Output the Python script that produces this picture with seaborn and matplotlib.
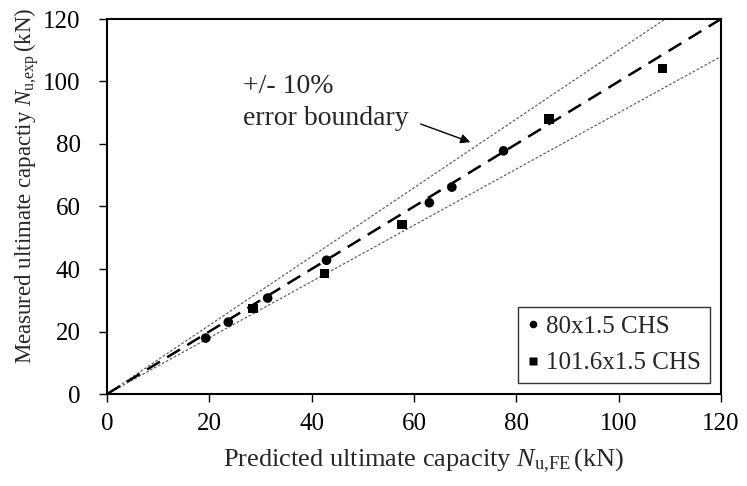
import matplotlib
matplotlib.use("Agg")
import matplotlib.pyplot as plt
import seaborn as sns
import pandas as pd

# Predicted (FE) vs measured ultimate capacity, kN
chs80_pred = [19.3, 23.7, 31.4, 42.9, 63.0, 67.4, 77.5]
chs80_meas = [17.9, 23.0, 30.7, 42.8, 61.2, 66.2, 77.8]
chs101_pred = [28.5, 42.5, 57.6, 86.4, 108.6]
chs101_meas = [27.3, 38.5, 54.2, 88.0, 104.1]
series_names = ["80x1.5 CHS", "101.6x1.5 CHS"]

# Reference line and +/-10 % error bounds
ref_x = [0, 120]
ref_y = [0, 120]
upper_x = [0, 120 / 1.1]
upper_y = [0, 120]
lower_x = [0, 120]
lower_y = [0, 108]

ticks = [0, 20, 40, 60, 80, 100, 120]

df = pd.DataFrame({
    "pred": chs80_pred + chs101_pred,
    "meas": chs80_meas + chs101_meas,
    "section": [series_names[0]] * len(chs80_pred) + [series_names[1]] * len(chs101_pred),
})

sns.set_theme(style="white")
plt.rcParams["font.family"] = ["Liberation Serif", "DejaVu Serif"]
plt.rcParams["mathtext.fontset"] = "custom"
plt.rcParams["mathtext.rm"] = "Liberation Serif"
plt.rcParams["mathtext.it"] = "Liberation Serif:italic"

fig = plt.figure(figsize=(7.47, 4.86), dpi=100)
ax = fig.add_axes([107 / 747, 92 / 486, 614 / 747, 375 / 486])

ax.plot(upper_x, upper_y, color="#5a5a5a", lw=0.85, dashes=(2.2, 1.6), zorder=1)
ax.plot(lower_x, lower_y, color="#5a5a5a", lw=0.85, dashes=(2.2, 1.6), zorder=1)
ax.plot(ref_x, ref_y, color="black", lw=1.8, dashes=(6, 3.4), zorder=2)

sns.scatterplot(data=df, x="pred", y="meas", style="section", hue="section",
                palette=["black", "black"], markers=["o", "s"],
                s=48, edgecolor="none", ax=ax, zorder=3)

ax.set_xlim(0, 120)
ax.set_ylim(0, 120)
ax.set_xticks(ticks)
ax.set_yticks(ticks)
ax.tick_params(axis="both", which="major", labelsize=18, length=6, width=1,
               direction="out", colors="black",
               bottom=True, left=True, top=False, right=False)
ax.tick_params(axis="x", pad=8)
ax.tick_params(axis="y", pad=13)
for sp in ax.spines.values():
    sp.set_color("black")
    sp.set_linewidth(1.5)

ax.set_xlabel(r"Predicted ultimate capacity $N_{\mathrm{u{,}FE}}\,$(kN)", fontsize=19)
ax.set_ylabel(r"Measured ultimate capactiy $N_{\mathrm{u{,}exp}}\,$(kN)", fontsize=16.5)
ax.xaxis.set_label_coords(0.515, -0.14)
ax.yaxis.set_label_coords(-0.108, 0.555)

ax.text(26.6, 96.3, "+/- 10%", fontsize=20, ha="left", va="baseline")
ax.text(26.6, 86.1, "error boundary", fontsize=20, ha="left", va="baseline")
ax.annotate("", xy=(71.5, 80.3), xytext=(60.8, 86.7),
            arrowprops=dict(arrowstyle="-|>", color="black", lw=1, mutation_scale=14))

handles, labels = ax.get_legend_handles_labels()
for h in handles:
    h.set_markersize(5.5)
leg = ax.legend(handles, series_names, loc="lower right", bbox_to_anchor=(0.982, 0.029),
                fontsize=18, frameon=True, fancybox=False, edgecolor="black",
                handlelength=0.5, handletextpad=0.3, borderpad=0.35, labelspacing=0.55,
                borderaxespad=0)
leg.get_frame().set_linewidth(1)

fig.savefig("out.png", dpi=100, facecolor="white")
